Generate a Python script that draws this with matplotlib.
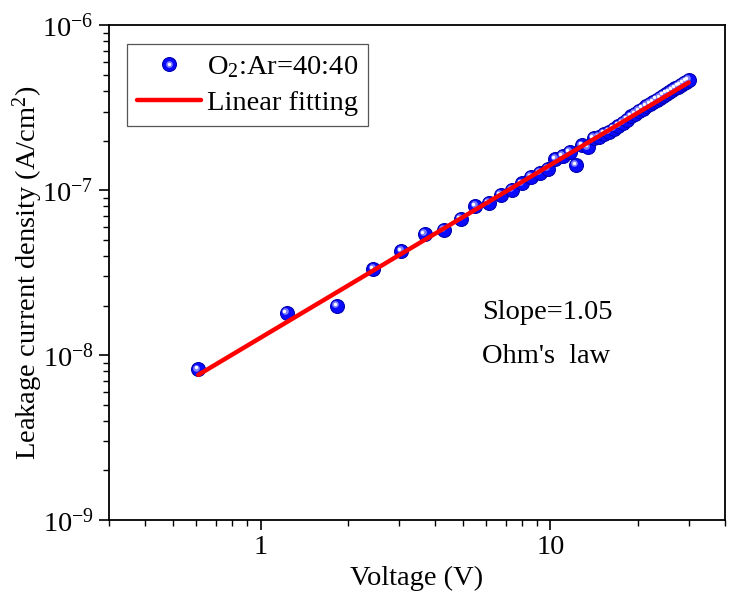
import matplotlib
matplotlib.use("Agg")
import matplotlib.pyplot as plt
from matplotlib.transforms import ScaledTranslation
from matplotlib.legend_handler import HandlerTuple
from matplotlib.ticker import LogLocator, NullFormatter

plt.rcParams['font.family'] = ['Liberation Serif', 'DejaVu Serif']
plt.rcParams['mathtext.fontset'] = 'custom'
plt.rcParams['mathtext.rm'] = 'Liberation Serif'
plt.rcParams['mathtext.it'] = 'Liberation Serif:italic'

# Data: voltage (V) and leakage current density (A/cm^2)
voltage = [0.61, 1.23, 1.84, 2.45, 3.06, 3.68, 4.29, 4.90, 5.51, 6.13,
           6.74, 7.35, 7.96, 8.58, 9.19, 9.80, 10.41, 11.03, 11.64, 12.25,
           12.86, 13.48, 14.09, 14.70, 15.31, 15.93, 16.54, 17.15, 17.76, 18.38,
           18.99, 19.60, 20.21, 20.83, 21.44, 22.05, 22.66, 23.28, 23.89, 24.50,
           25.11, 25.73, 26.34, 26.95, 27.56, 28.18, 28.79, 29.40, 30.01]
current = [8.2e-9, 1.8e-8, 1.98e-8, 3.32e-8, 4.27e-8, 5.41e-8, 5.73e-8, 6.67e-8, 8.0e-8, 8.34e-8,
           9.33e-8, 1.0e-7, 1.10e-7, 1.20e-7, 1.27e-7, 1.34e-7, 1.54e-7, 1.61e-7, 1.70e-7, 1.42e-7,
           1.87e-7, 1.82e-7, 2.07e-7, 2.10e-7, 2.20e-7, 2.26e-7, 2.36e-7, 2.46e-7, 2.55e-7, 2.68e-7,
           2.80e-7, 2.90e-7, 3.02e-7, 3.12e-7, 3.23e-7, 3.33e-7, 3.43e-7, 3.54e-7, 3.63e-7, 3.74e-7,
           3.84e-7, 3.94e-7, 4.05e-7, 4.14e-7, 4.25e-7, 4.35e-7, 4.45e-7, 4.55e-7, 4.64e-7]

# Linear fit (log-log) end points, slope = 1.05
fit_v = [0.61, 30.0]
fit_j = [7.6e-9, 4.5e-7]

series_label = "O$_2$:Ar=40:40"
fit_label = "Linear fitting"
x_ticks = [1, 10]
x_ticklabels = ["1", "10"]
y_ticks = [1e-9, 1e-8, 1e-7, 1e-6]
y_ticklabels = ["10$^{-9}$", "10$^{-8}$", "10$^{-7}$", "10$^{-6}$"]

FS = 20.5

fig = plt.figure(figsize=(7.36, 6.02), dpi=100)
ax = fig.add_axes([0.148, 0.136, 0.837, 0.822])

ms = 10
pts, = ax.plot(voltage, current, 'o', ms=ms, color='#0a0aff', mec='#0000b0', mew=0.8,
               zorder=3, linestyle='none')
off1 = ScaledTranslation(-1.3 / 72, 1.3 / 72, fig.dpi_scale_trans)
hl1, = ax.plot(voltage, current, 'o', ms=4.8, color='#8080ff', mec='none',
               transform=ax.transData + off1, zorder=4, linestyle='none')
off2 = ScaledTranslation(-1.7 / 72, 1.7 / 72, fig.dpi_scale_trans)
hl2, = ax.plot(voltage, current, 'o', ms=2.4, color='white', mec='none',
               transform=ax.transData + off2, zorder=5, linestyle='none')
fit, = ax.plot(fit_v, fit_j, '-', color='#ff0000', lw=3.2, zorder=6,
               solid_capstyle='round')

ax.set_xscale('log')
ax.set_yscale('log')
ax.set_xlim(0.3, 40)
ax.set_ylim(1e-9, 1e-6)

ax.set_xticks(x_ticks)
ax.set_xticklabels(x_ticklabels)
ax.set_yticks(y_ticks)
ax.set_yticklabels(y_ticklabels)
ax.xaxis.set_minor_locator(LogLocator(base=10, subs=range(2, 10)))
ax.yaxis.set_minor_locator(LogLocator(base=10, subs=range(2, 10)))
ax.xaxis.set_minor_formatter(NullFormatter())
ax.yaxis.set_minor_formatter(NullFormatter())
ax.tick_params(which='major', direction='out', length=7, width=1.2, labelsize=FS,
               top=False, right=False, pad=4)
ax.tick_params(which='minor', direction='out', length=4, width=1.0,
               top=False, right=False)
for s in ax.spines.values():
    s.set_linewidth(1.3)

ax.set_xlabel("Voltage (V)", fontsize=FS, labelpad=4)
ax.set_ylabel("Leakage current density (A/cm$^2$)", fontsize=FS)
ax.yaxis.set_label_coords(-0.103, 0.5)

ax.text(0.605, 0.42, "Slope=1.05", transform=ax.transAxes, fontsize=FS, va='center')
ax.text(0.605, 0.33, "Ohm's  law", transform=ax.transAxes, fontsize=FS, va='center')

leg = ax.legend([(pts, hl1, hl2), fit], [series_label, fit_label],
                handler_map={tuple: HandlerTuple(ndivide=1)},
                loc='upper left', bbox_to_anchor=(0.029, 0.962), fontsize=FS,
                frameon=True, fancybox=False, edgecolor='#555555', framealpha=1,
                handlelength=2.25, numpoints=1, borderpad=0.35, labelspacing=0.35,
                handletextpad=0.2, borderaxespad=0.0)
leg.get_frame().set_linewidth(0.9)

fig.savefig("out.png", dpi=100)
